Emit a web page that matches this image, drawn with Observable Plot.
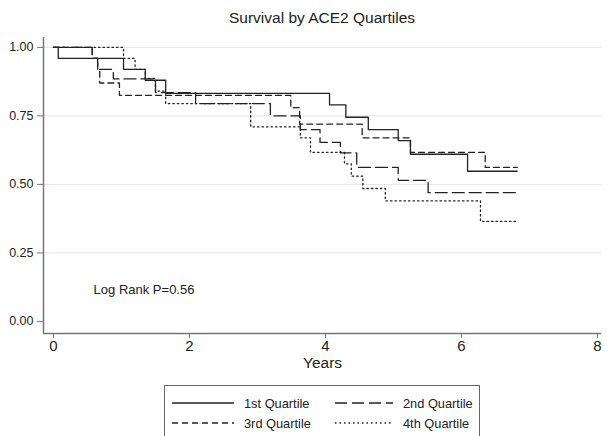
<!DOCTYPE html>
<html>
<head>
<meta charset="utf-8">
<script src="https://cdn.jsdelivr.net/npm/d3@7"></script>
<script src="https://cdn.jsdelivr.net/npm/@observablehq/plot@0.6"></script>
<style>
  html, body { margin: 0; padding: 0; background: #fff; }
  body { width: 607px; height: 436px; overflow: hidden; font-family: "Liberation Sans", Arial, sans-serif; color: #222; }
  #title { height: 30px; box-sizing: border-box; padding: 8px 6px 0 43px; text-align: center; font-size: 15.5px; line-height: 20px; }
  #legend { position: relative; margin-left: 164px; width: 316px; height: 60px; box-sizing: border-box; border: 1px solid #666; font-size: 12.8px; }
  .item { position: absolute; display: flex; align-items: center; height: 16px; white-space: nowrap; }
  .item span { margin-left: 10px; white-space: nowrap; }
</style>
</head>
<body>
<div id="title">Survival by ACE2 Quartiles</div>
<div id="chart"></div>
<div id="legend"></div>
<script>
// Tick values
const yearTicks = [0, 2, 4, 6, 8];
const survTicks = [0, 0.25, 0.5, 0.75, 1];

// Series names
const seriesNames = ["1st Quartile", "2nd Quartile", "3rd Quartile", "4th Quartile"];

// Kaplan-Meier step values (time in years, survival)
const q1Times = [0, 0.07, 1.03, 1.35, 1.65, 4.06, 4.30, 4.63, 5.07, 5.25, 6.09, 6.82];
const q1Surv  = [1, 0.96, 0.92, 0.88, 0.832, 0.79, 0.745, 0.70, 0.66, 0.61, 0.548, 0.548];

const q2Times = [0, 0.57, 0.65, 0.88, 1.50, 2.09, 3.19, 3.63, 3.92, 4.22, 4.46, 5.07, 5.51, 6.82];
const q2Surv  = [1, 0.96, 0.92, 0.885, 0.835, 0.795, 0.75, 0.70, 0.653, 0.615, 0.562, 0.515, 0.47, 0.47];

const q3Times = [0, 0.57, 0.65, 0.68, 0.97, 3.49, 3.62, 4.54, 5.25, 6.35, 6.82];
const q3Surv  = [1, 0.96, 0.92, 0.87, 0.825, 0.78, 0.72, 0.67, 0.617, 0.562, 0.562];

const q4Times = [0, 1.03, 1.20, 1.35, 1.50, 1.65, 2.90, 3.63, 3.78, 4.28, 4.38, 4.55, 4.88, 6.28, 6.82];
const q4Surv  = [1, 0.96, 0.92, 0.887, 0.84, 0.795, 0.71, 0.67, 0.617, 0.575, 0.53, 0.485, 0.44, 0.365, 0.365];

const noteText = "Log Rank P=0.56";

const dashes = ["none", "12,5", "6,4", "1.5,3"];
const lineColor = "#222";

const toRows = (times, surv) => times.map((t, i) => ({t, s: surv[i]}));
const series = [
  toRows(q1Times, q1Surv),
  toRows(q2Times, q2Surv),
  toRows(q3Times, q3Surv),
  toRows(q4Times, q4Surv)
];

const plot = Plot.plot({
  width: 607,
  height: 355,
  marginTop: 7,
  marginLeft: 43,
  marginRight: 6,
  marginBottom: 52,
  style: {fontFamily: "'Liberation Sans', Arial, sans-serif", color: "#222", background: "#fff"},
  x: {domain: [-0.147, 8.06]},
  y: {domain: [-0.044, 1.036]},
  marks: [
    Plot.ruleY(survTicks.filter(d => d > 0), {stroke: "#e4e4e4", strokeWidth: 1}),
    ...series.map((rows, i) => Plot.line(rows, {
      x: "t", y: "s", curve: "step-after",
      stroke: lineColor, strokeWidth: 1.3, strokeDasharray: dashes[i]
    })),
    Plot.ruleX([-0.147], {stroke: "#777", strokeWidth: 1.5}),
    Plot.ruleY([-0.044], {stroke: "#777", strokeWidth: 1.5}),
    Plot.axisY(survTicks, {tickFormat: d3.format(".2f"), tickSize: 6, tickPadding: 4, fontSize: 12.5, stroke: "#777", label: null}),
    Plot.axisX(yearTicks, {tickSize: 5, tickPadding: 2, fontSize: 15, stroke: "#777", label: null}),
    Plot.text(["Years"], {frameAnchor: "bottom", dy: 34, fontSize: 15.5, fill: "#222"}),
    Plot.text([noteText], {x: 0.59, y: 0.117, text: d => d, textAnchor: "start", fontSize: 13, fill: "#222"})
  ]
});
document.getElementById("chart").appendChild(plot);

// Legend
const legend = document.getElementById("legend");
const pos = [[7, 9], [170, 9], [7, 29], [170, 29]];
seriesNames.forEach((name, i) => {
  const div = document.createElement("div");
  div.className = "item";
  div.style.left = pos[i][0] + "px";
  div.style.top = pos[i][1] + "px";
  const w = i % 2 === 0 ? 62 : 58;
  div.innerHTML = `<svg width="${w}" height="16"><line x1="0" x2="${w}" y1="8" y2="8" stroke="${lineColor}" stroke-width="1.3" stroke-dasharray="${dashes[i]}"/></svg><span>${name}</span>`;
  legend.appendChild(div);
});
</script>
</body>
</html>
